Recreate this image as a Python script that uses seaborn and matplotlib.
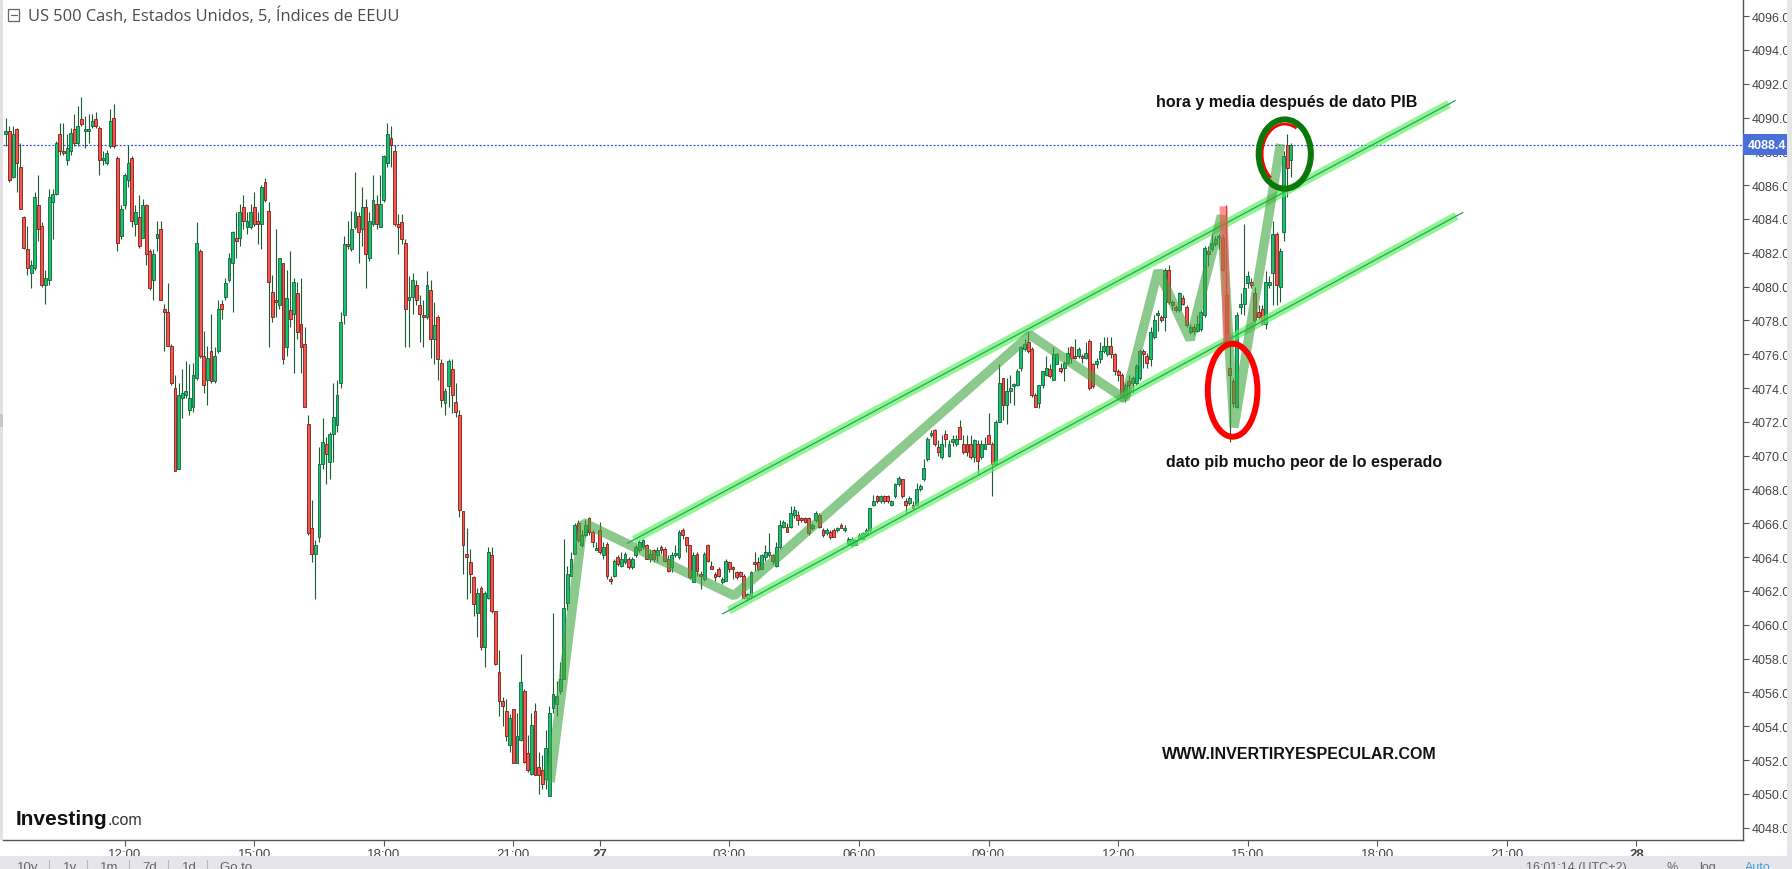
import numpy as np
import pandas as pd
import matplotlib
matplotlib.use("Agg")
import matplotlib.pyplot as plt
import matplotlib.transforms as mtransforms
from matplotlib.patches import Ellipse, Arc, Rectangle
import seaborn as sns

# ---------------- data (5-minute candles, bar index on screen) ----------------
first_bar = -33
opens = [
    4089.0, 4089.2, 4086.5, 4089.3, 4087.1, 4084.1, 4082.2, 4080.8, 4081.1, 4084.8,
    4083.6, 4080.1, 4080.4, 4085.0, 4085.5, 4089.0, 4088.0, 4087.5, 4088.0, 4089.3,
    4088.5, 4089.9, 4089.2, 4089.2, 4089.5, 4089.9, 4089.4, 4087.5, 4087.3, 4088.3,
    4090.0, 4087.6, 4083.0, 4084.8, 4086.3, 4087.6, 4083.7, 4084.1, 4082.9, 4084.8,
    4082.1, 4080.4, 4082.9, 4083.4, 4078.7, 4078.5, 4076.5, 4074.0, 4069.2, 4073.4,
    4073.6, 4072.7, 4072.9, 4074.6, 4082.1, 4075.9, 4074.5, 4076.2, 4074.4, 4076.2,
    4079.0, 4079.4, 4080.4, 4081.4, 4082.9, 4082.9, 4084.7, 4083.5, 4083.5, 4084.7,
    4083.9, 4083.7, 4086.2, 4084.5, 4079.7, 4079.2, 4078.9, 4081.4, 4076.4, 4078.6,
    4078.4, 4079.6, 4077.8, 4076.6, 4071.9, 4065.7, 4064.2, 4065.2, 4069.5, 4070.7,
    4069.6, 4071.3, 4071.8, 4074.3, 4078.3, 4082.5, 4082.2, 4083.5, 4084.2, 4083.4,
    4084.7, 4081.7, 4083.7, 4084.9, 4083.5, 4085.1, 4087.3, 4088.8, 4088.0, 4083.7,
    4083.8, 4082.6, 4079.2, 4079.4, 4080.1, 4078.9, 4078.3, 4078.2, 4079.8, 4076.9,
    4078.2, 4075.5, 4073.1, 4074.1, 4075.1, 4073.2, 4072.4, 4066.7, 4064.2, 4063.7,
    4062.8, 4060.7, 4062.2, 4058.7, 4061.6, 4064.1, 4060.8, 4057.2, 4055.5, 4054.9,
    4052.9, 4055.0, 4051.8, 4053.2, 4056.1, 4052.4, 4051.2, 4054.9, 4051.6, 4051.4,
    4050.9, 4049.9, 4055.1, 4055.3, 4056.1, 4056.8, 4061.3, 4062.9, 4064.2, 4066.0,
    4064.7, 4065.3, 4066.3, 4065.5, 4064.4, 4065.6, 4064.1, 4064.8, 4062.7, 4062.9,
    4064.0, 4063.5, 4063.7, 4063.9, 4063.4, 4064.1, 4064.4, 4064.6, 4064.7, 4063.9,
    4064.4, 4064.1, 4064.6, 4064.5, 4063.9, 4063.4, 4064.1, 4064.0, 4065.6, 4065.2,
    4064.7, 4062.5, 4064.2, 4063.0, 4062.7, 4064.7, 4063.5, 4063.0, 4063.3, 4062.5,
    4062.6, 4063.7, 4063.4, 4063.1, 4063.1, 4062.9, 4061.6, 4061.7, 4063.7, 4063.7,
    4063.3, 4064.0, 4064.1, 4064.1, 4063.5, 4064.6, 4065.8, 4065.8, 4065.8, 4066.5,
    4066.5, 4066.3, 4066.3, 4066.3, 4065.7, 4066.2, 4066.5, 4065.6, 4065.4, 4065.5,
    4065.6, 4065.6, 4065.9, 4065.6, 4064.8, 4064.7, 4064.7, 4065.1, 4065.1, 4065.3,
    4065.6, 4067.1, 4067.6, 4067.3, 4067.6, 4067.6, 4067.1, 4067.6, 4068.3, 4068.6,
    4067.3, 4067.2, 4067.1, 4067.1, 4068.0, 4068.6, 4069.8, 4071.2, 4071.5, 4070.5,
    4069.9, 4071.3, 4070.0, 4070.8, 4070.7, 4071.7, 4070.7, 4070.7, 4070.7, 4069.9,
    4070.7, 4069.9, 4070.4, 4071.2, 4070.7, 4069.5, 4072.0, 4074.6, 4073.0, 4073.8,
    4074.1, 4074.2, 4075.2, 4076.3, 4076.7, 4076.3, 4073.6, 4073.1, 4074.2, 4074.8,
    4075.1, 4074.5, 4075.4, 4075.2, 4075.2, 4075.5, 4076.4, 4075.9, 4075.9, 4075.9,
    4075.8, 4076.8, 4075.4, 4075.4, 4075.7, 4076.2, 4076.0, 4076.5, 4076.0, 4075.0,
    4074.8, 4073.4, 4074.4, 4074.3, 4074.3, 4074.6, 4076.2, 4075.9, 4075.7, 4077.0,
    4078.3, 4078.2, 4078.2, 4081.0, 4079.1, 4078.8, 4078.6, 4079.3, 4078.8, 4077.3,
    4077.6, 4077.4, 4077.5, 4078.3, 4082.1, 4082.2, 4082.5, 4082.9, 4082.9, 4079.5,
    4075.2, 4074.4, 4072.9, 4078.8, 4079.0, 4080.2, 4080.3, 4079.6, 4078.5, 4078.7,
    4077.8, 4080.1, 4080.8, 4083.1, 4080.0, 4083.2, 4088.4, 4087.5,
]
highs = [
    4090.0, 4089.5, 4089.5, 4089.4, 4088.5, 4084.2, 4083.6, 4081.6, 4085.6, 4086.6,
    4083.8, 4081.0, 4085.8, 4085.8, 4088.6, 4089.7, 4089.7, 4089.0, 4089.4, 4090.2,
    4090.7, 4091.2, 4090.1, 4090.2, 4090.2, 4090.3, 4089.5, 4088.0, 4088.1, 4090.5,
    4090.8, 4087.7, 4084.8, 4086.7, 4088.4, 4087.7, 4084.8, 4085.4, 4085.2, 4084.9,
    4082.2, 4082.2, 4083.9, 4083.9, 4079.0, 4080.2, 4076.6, 4074.8, 4074.3, 4075.1,
    4075.6, 4075.4, 4075.5, 4083.8, 4082.2, 4077.4, 4076.5, 4078.4, 4076.4, 4079.2,
    4079.2, 4080.5, 4082.0, 4083.3, 4084.4, 4084.9, 4085.4, 4084.4, 4084.9, 4085.6,
    4084.4, 4086.0, 4086.4, 4085.0, 4080.7, 4083.4, 4081.7, 4081.4, 4081.0, 4082.1,
    4080.5, 4080.3, 4080.5, 4077.6, 4072.4, 4067.4, 4065.0, 4070.5, 4072.2, 4071.1,
    4071.4, 4074.3, 4074.5, 4078.5, 4083.0, 4083.9, 4084.5, 4086.8, 4084.4, 4085.9,
    4085.2, 4084.4, 4086.6, 4085.4, 4086.6, 4087.8, 4089.7, 4089.5, 4088.4, 4084.3,
    4084.3, 4082.8, 4080.6, 4080.8, 4080.4, 4079.5, 4079.2, 4080.9, 4080.4, 4079.1,
    4078.3, 4075.7, 4074.0, 4075.7, 4075.7, 4074.3, 4072.7, 4066.7, 4065.7, 4064.5,
    4062.9, 4062.2, 4062.3, 4062.0, 4064.6, 4064.6, 4060.8, 4058.5, 4055.7, 4055.6,
    4054.7, 4055.0, 4054.8, 4058.3, 4056.2, 4053.5, 4054.8, 4055.4, 4052.5, 4052.3,
    4053.8, 4055.2, 4060.7, 4056.7, 4057.8, 4065.1, 4063.5, 4064.3, 4066.0, 4066.2,
    4065.6, 4066.2, 4066.4, 4065.6, 4064.9, 4066.1, 4064.9, 4064.9, 4062.9, 4063.9,
    4064.1, 4064.3, 4064.3, 4064.0, 4064.0, 4064.7, 4065.0, 4065.1, 4064.8, 4064.5,
    4064.5, 4064.6, 4064.7, 4064.6, 4064.1, 4064.3, 4064.7, 4065.6, 4065.7, 4065.2,
    4064.7, 4064.3, 4064.3, 4063.2, 4064.3, 4064.8, 4063.8, 4063.1, 4063.4, 4062.8,
    4063.9, 4063.8, 4063.5, 4063.2, 4063.2, 4063.0, 4061.9, 4063.2, 4064.3, 4064.0,
    4064.2, 4064.7, 4065.4, 4064.2, 4064.9, 4066.2, 4066.2, 4066.0, 4067.0, 4067.0,
    4066.7, 4066.4, 4066.4, 4066.4, 4066.0, 4066.7, 4066.6, 4065.7, 4065.7, 4065.6,
    4065.7, 4065.8, 4066.0, 4065.9, 4065.2, 4065.2, 4065.1, 4065.4, 4065.5, 4065.7,
    4066.9, 4067.7, 4067.7, 4067.7, 4067.7, 4067.7, 4067.4, 4068.4, 4068.8, 4068.6,
    4067.5, 4067.6, 4067.3, 4068.4, 4068.3, 4069.8, 4071.1, 4071.5, 4071.6, 4070.9,
    4071.2, 4071.5, 4070.9, 4071.2, 4071.2, 4072.1, 4071.2, 4071.2, 4071.2, 4071.0,
    4070.9, 4070.9, 4071.1, 4072.5, 4070.8, 4072.1, 4075.4, 4074.6, 4074.6, 4074.8,
    4074.3, 4075.1, 4076.5, 4076.9, 4077.4, 4076.4, 4073.7, 4074.2, 4075.0, 4075.9,
    4075.4, 4076.4, 4076.1, 4075.5, 4075.6, 4076.4, 4076.5, 4076.9, 4076.4, 4076.0,
    4076.7, 4076.9, 4075.5, 4075.8, 4076.7, 4077.0, 4077.0, 4077.0, 4076.1, 4075.1,
    4074.9, 4074.3, 4074.8, 4074.7, 4075.4, 4076.3, 4076.3, 4076.1, 4077.6, 4078.3,
    4078.6, 4078.3, 4081.1, 4081.3, 4079.2, 4078.9, 4079.7, 4079.5, 4078.9, 4077.8,
    4077.8, 4078.3, 4078.6, 4082.4, 4082.4, 4083.1, 4083.0, 4083.1, 4083.1, 4084.8,
    4076.5, 4074.6, 4078.5, 4079.6, 4083.7, 4080.9, 4080.5, 4080.0, 4078.9, 4078.9,
    4080.9, 4080.6, 4083.9, 4083.2, 4082.3, 4088.0, 4089.0, 4088.5,
]
lows = [
    4088.3, 4086.2, 4086.4, 4085.6, 4084.6, 4082.2, 4080.7, 4079.9, 4081.0, 4082.7,
    4080.0, 4079.0, 4080.1, 4082.8, 4085.4, 4087.8, 4087.8, 4087.2, 4087.8, 4088.3,
    4088.3, 4089.5, 4088.2, 4088.5, 4089.4, 4089.4, 4086.6, 4087.2, 4087.2, 4088.2,
    4088.2, 4082.1, 4082.8, 4084.6, 4085.9, 4083.5, 4083.0, 4082.3, 4082.9, 4081.3,
    4079.8, 4079.2, 4082.1, 4079.2, 4076.2, 4076.5, 4074.2, 4069.1, 4069.2, 4072.2,
    4073.4, 4072.4, 4072.6, 4074.5, 4075.8, 4073.7, 4073.0, 4074.3, 4074.3, 4076.1,
    4078.1, 4079.2, 4080.3, 4078.5, 4081.7, 4082.4, 4083.4, 4083.1, 4083.4, 4083.6,
    4082.5, 4082.2, 4085.0, 4076.4, 4077.9, 4078.2, 4078.7, 4075.4, 4075.9, 4077.6,
    4074.9, 4076.9, 4074.9, 4072.9, 4065.3, 4063.7, 4061.5, 4064.9, 4069.2, 4068.3,
    4068.6, 4069.6, 4071.4, 4074.0, 4077.8, 4082.2, 4082.1, 4083.4, 4081.4, 4082.4,
    4079.9, 4081.5, 4083.6, 4083.4, 4083.5, 4085.0, 4087.1, 4087.1, 4083.6, 4081.9,
    4082.5, 4076.4, 4076.4, 4078.4, 4078.9, 4076.7, 4076.4, 4078.1, 4075.8, 4075.4,
    4074.5, 4072.9, 4072.4, 4072.9, 4072.5, 4072.3, 4066.4, 4063.0, 4061.5, 4061.9,
    4060.5, 4059.3, 4058.5, 4057.5, 4061.5, 4060.7, 4057.6, 4054.6, 4054.0, 4053.1,
    4052.5, 4051.8, 4051.8, 4053.1, 4051.8, 4051.3, 4051.1, 4051.1, 4050.0, 4050.3,
    4050.3, 4049.9, 4054.8, 4054.6, 4055.9, 4056.8, 4060.9, 4062.9, 4064.2, 4064.9,
    4064.6, 4065.2, 4065.3, 4064.6, 4064.4, 4064.2, 4063.9, 4062.7, 4062.4, 4062.8,
    4063.5, 4063.4, 4063.6, 4063.3, 4063.3, 4064.0, 4064.3, 4064.5, 4063.9, 4063.7,
    4063.7, 4063.7, 4064.2, 4063.7, 4063.1, 4063.1, 4064.0, 4063.9, 4065.1, 4064.3,
    4062.7, 4062.5, 4062.9, 4062.1, 4062.6, 4063.7, 4063.3, 4062.6, 4062.8, 4062.4,
    4062.6, 4063.1, 4062.7, 4062.7, 4062.8, 4061.5, 4061.4, 4061.5, 4063.2, 4063.2,
    4063.3, 4063.8, 4064.0, 4063.6, 4063.4, 4064.5, 4065.7, 4065.5, 4065.7, 4066.3,
    4065.9, 4066.1, 4066.0, 4065.3, 4065.6, 4066.1, 4065.7, 4065.2, 4065.3, 4065.1,
    4065.2, 4065.5, 4065.7, 4065.5, 4064.7, 4064.6, 4064.7, 4065.0, 4065.1, 4065.2,
    4065.5, 4067.0, 4067.2, 4067.2, 4067.2, 4067.2, 4067.0, 4067.5, 4068.2, 4067.5,
    4066.6, 4067.1, 4066.8, 4067.0, 4067.9, 4068.5, 4069.7, 4071.1, 4070.6, 4070.0,
    4069.8, 4070.5, 4069.9, 4070.6, 4070.6, 4071.0, 4070.1, 4070.0, 4069.8, 4069.6,
    4068.9, 4069.8, 4070.4, 4070.7, 4067.6, 4069.5, 4072.0, 4072.1, 4071.9, 4073.1,
    4073.0, 4074.1, 4075.0, 4076.2, 4076.1, 4073.5, 4072.9, 4072.8, 4074.0, 4074.7,
    4074.6, 4074.5, 4075.4, 4074.9, 4074.4, 4075.4, 4075.5, 4075.7, 4075.8, 4075.5,
    4075.7, 4073.9, 4074.0, 4075.2, 4075.5, 4076.1, 4075.9, 4075.8, 4074.8, 4074.4,
    4073.4, 4073.2, 4073.5, 4073.7, 4074.2, 4074.5, 4075.2, 4075.2, 4075.3, 4076.9,
    4077.4, 4077.9, 4077.4, 4079.0, 4078.6, 4078.5, 4078.5, 4078.9, 4077.6, 4077.2,
    4077.2, 4077.3, 4077.4, 4078.2, 4081.2, 4082.1, 4082.4, 4082.2, 4080.9, 4076.5,
    4070.8, 4072.9, 4072.8, 4078.4, 4078.3, 4079.9, 4079.9, 4077.9, 4078.0, 4077.7,
    4077.5, 4079.9, 4078.9, 4078.9, 4079.1, 4082.7, 4085.3, 4086.5,
]
closes = [
    4089.2, 4086.3, 4089.0, 4087.3, 4084.6, 4082.3, 4081.1, 4081.3, 4085.3, 4083.4,
    4080.1, 4080.5, 4085.3, 4085.5, 4088.5, 4088.0, 4087.9, 4088.2, 4089.1, 4088.5,
    4089.5, 4089.6, 4089.3, 4089.3, 4089.8, 4089.5, 4087.5, 4087.6, 4087.9, 4089.8,
    4088.3, 4082.6, 4084.6, 4086.6, 4087.3, 4083.9, 4084.4, 4082.4, 4084.8, 4081.9,
    4079.9, 4081.9, 4083.1, 4079.2, 4078.5, 4076.5, 4074.3, 4069.1, 4073.6, 4073.7,
    4073.8, 4073.4, 4074.8, 4082.6, 4075.9, 4074.2, 4075.8, 4074.4, 4075.9, 4078.7,
    4078.7, 4080.2, 4081.7, 4083.2, 4082.7, 4084.4, 4083.9, 4083.9, 4084.4, 4083.7,
    4083.7, 4085.9, 4085.1, 4080.3, 4078.2, 4079.1, 4081.7, 4075.7, 4079.3, 4078.1,
    4080.3, 4077.3, 4076.4, 4072.9, 4065.4, 4064.2, 4064.7, 4069.5, 4070.8, 4070.1,
    4071.3, 4072.3, 4073.6, 4077.9, 4082.5, 4082.4, 4083.4, 4084.4, 4083.2, 4084.7,
    4081.9, 4083.9, 4085.1, 4083.7, 4084.9, 4087.7, 4089.0, 4088.4, 4083.7, 4083.5,
    4082.8, 4078.7, 4079.4, 4080.4, 4079.2, 4078.4, 4078.2, 4080.1, 4076.9, 4077.7,
    4075.7, 4073.3, 4073.8, 4075.6, 4073.6, 4072.6, 4066.8, 4064.7, 4064.0, 4063.0,
    4061.2, 4061.9, 4058.7, 4061.9, 4064.3, 4060.8, 4057.7, 4055.5, 4055.2, 4053.4,
    4054.5, 4051.8, 4053.4, 4056.6, 4051.9, 4051.4, 4054.1, 4051.1, 4051.1, 4050.6,
    4052.7, 4054.8, 4055.9, 4055.8, 4056.8, 4061.0, 4063.0, 4063.9, 4065.9, 4065.0,
    4065.3, 4065.9, 4065.5, 4064.9, 4064.5, 4064.3, 4064.6, 4062.9, 4062.6, 4063.8,
    4063.6, 4063.9, 4064.2, 4063.4, 4063.9, 4064.6, 4064.9, 4065.0, 4063.9, 4064.2,
    4063.9, 4064.4, 4064.4, 4063.8, 4063.2, 4064.1, 4064.2, 4065.5, 4065.3, 4064.7,
    4062.8, 4064.1, 4063.2, 4062.9, 4064.2, 4063.8, 4063.3, 4062.8, 4062.9, 4062.7,
    4063.8, 4063.3, 4063.3, 4062.8, 4062.9, 4061.6, 4061.8, 4063.1, 4063.6, 4063.3,
    4064.1, 4064.3, 4064.3, 4063.8, 4064.6, 4065.9, 4066.1, 4065.5, 4066.6, 4066.8,
    4066.2, 4066.2, 4066.1, 4065.4, 4065.9, 4066.6, 4065.8, 4065.3, 4065.6, 4065.2,
    4065.2, 4065.7, 4065.7, 4065.7, 4065.1, 4065.1, 4065.0, 4065.3, 4065.4, 4065.6,
    4066.9, 4067.3, 4067.3, 4067.6, 4067.3, 4067.3, 4067.3, 4068.3, 4068.7, 4067.6,
    4067.1, 4067.5, 4066.9, 4068.0, 4068.2, 4069.3, 4071.0, 4071.3, 4070.7, 4070.2,
    4070.7, 4071.0, 4070.7, 4071.0, 4071.0, 4071.0, 4070.2, 4070.2, 4069.9, 4070.9,
    4069.7, 4070.7, 4070.7, 4070.7, 4069.5, 4072.0, 4074.3, 4073.0, 4073.8, 4074.0,
    4074.2, 4075.0, 4076.4, 4076.6, 4076.2, 4073.6, 4072.9, 4074.2, 4075.0, 4075.2,
    4074.7, 4076.0, 4076.0, 4075.0, 4075.5, 4076.1, 4075.8, 4075.8, 4076.3, 4075.8,
    4076.1, 4074.0, 4074.1, 4075.6, 4076.2, 4076.5, 4076.5, 4076.0, 4075.0, 4074.8,
    4073.5, 4074.2, 4074.2, 4074.6, 4075.3, 4076.2, 4076.0, 4075.5, 4077.3, 4078.0,
    4078.4, 4078.0, 4081.0, 4079.1, 4078.9, 4078.6, 4079.6, 4079.0, 4077.7, 4077.6,
    4077.4, 4077.8, 4078.5, 4082.3, 4081.9, 4082.6, 4082.8, 4083.0, 4081.0, 4076.7,
    4074.8, 4073.1, 4078.3, 4079.0, 4079.9, 4080.6, 4080.1, 4078.0, 4078.2, 4077.8,
    4080.3, 4080.3, 4083.1, 4080.1, 4082.1, 4087.7, 4087.0, 4088.4,
]
last_price = 4088.4

# time axis (bar index -> label); the 22:00-23:00 break is skipped on screen
tick_bars = [0, 36, 72, 108, 132, 168, 204, 240, 276, 312, 348, 384, 420]
tick_labels = ["12:00", "15:00", "18:00", "21:00", "27", "03:00", "06:00",
               "09:00", "12:00", "15:00", "18:00", "21:00", "28"]
price_ticks = list(np.arange(4048, 4097, 2))

# drawings: channel lines, zig-zag path, ellipses
upper_chan_bar = [141.5, 367.9]
upper_chan_px = [4065.03, 4090.8]
lower_chan_bar = [167.9, 370.0]
lower_chan_px = [4060.85, 4084.18]
zigzag_bar = [118.2, 127.4, 169.3, 251.5, 277.9, 287.1, 296.0, 304.7, 308.2, 321.1]
zigzag_px = [4050.7, 4066.05, 4061.72, 4077.14, 4073.35, 4080.94, 4076.86, 4084.2, 4071.68, 4088.43]
drop_bar = [305.3, 306.3]
drop_px = [4084.75, 4076.5]
red_ell = (307.8, 4073.87, 13.8, 5.5)
green_ell = (322.3, 4087.84, 14.5, 4.10)

n = len(opens)
assert len(highs) == n and len(lows) == n and len(closes) == n
df = pd.DataFrame({"bar": np.arange(first_bar, first_bar + n),
                   "open": opens, "high": highs, "low": lows, "close": closes})
df["up"] = df["close"] >= df["open"]

# ---------------- figure ----------------
sns.set_theme(style="white")
plt.rcParams["font.family"] = ["Liberation Sans", "DejaVu Sans"]

W, H = 1792, 870
fig = plt.figure(figsize=(W / 100, H / 100), dpi=100)
fig.patch.set_facecolor("white")
ax = fig.add_axes([3 / W, 29 / H, 1740 / W, 841 / H])
ax.set_facecolor("white")
ax.set_xlim(-33.8, 449.6)
ax.set_ylim(4047.27, 4097.01)

GREEN_FILL, GREEN_EDGE = "#14c46c", "#17603a"
RED_FILL, RED_EDGE = "#f4554c", "#7d1d17"
WICK = "#1b5c34"

# wicks
ax.vlines(df["bar"], df["low"], df["high"], color=WICK, linewidth=0.8, zorder=2)
# bodies
body_lo = np.minimum(df["open"], df["close"])
body_h = np.maximum(np.abs(df["close"] - df["open"]), 0.12)
ax.bar(df["bar"], body_h, bottom=body_lo, width=0.8,
       color=np.where(df["up"], GREEN_FILL, RED_FILL),
       edgecolor=np.where(df["up"], GREEN_EDGE, RED_EDGE),
       linewidth=0.6, zorder=3)

# last price dotted line
ax.axhline(last_price, color="#3355cc", linewidth=0.9, linestyle=(0, (1.6, 1.4)), zorder=2.5)

# channel lines
for bx, py in ((upper_chan_bar, upper_chan_px), (lower_chan_bar, lower_chan_px)):
    ax.plot(bx, py, color="#5cf05c", alpha=0.68, linewidth=6.0, solid_capstyle="butt", zorder=4)
    slope = (py[1] - py[0]) / (bx[1] - bx[0])
    ext = 1.8
    ax.plot([bx[0] - ext, bx[1] + ext], [py[0] - ext * slope, py[1] + ext * slope],
            color="#25a265", linewidth=0.9, zorder=4.1)

# zig-zag path
sns.lineplot(x=zigzag_bar, y=zigzag_px, sort=False, estimator=None, color="#3fa53f",
             alpha=0.6, linewidth=6.8, solid_capstyle="butt", solid_joinstyle="bevel",
             ax=ax, legend=False, zorder=5)
# red drop bar
ax.plot(drop_bar, drop_px, color="#ff4d4d", alpha=0.6, linewidth=5.8,
        solid_capstyle="butt", zorder=5.5)

# ellipses
cx, cy, ew, eh = red_ell
ax.add_patch(Ellipse((cx, cy), ew, eh, fill=False, edgecolor="#ff0000", linewidth=4.3, zorder=7))
cx, cy, ew, eh = green_ell
ax.add_patch(Arc((cx, cy), ew - 1.9, eh - 0.55, theta1=25, theta2=200,
                 edgecolor="#ff0000", linewidth=2.0, zorder=6.9))
ax.add_patch(Ellipse((cx, cy), ew, eh, fill=False, edgecolor="#0b770b", linewidth=4.3, zorder=7))

# axes styling
for s in ("top", "left"):
    ax.spines[s].set_visible(False)
for s in ("right", "bottom"):
    ax.spines[s].set_color("#555555")
    ax.spines[s].set_linewidth(1.0)
ax.yaxis.tick_right()
ax.set_yticks(price_ticks)
ax.set_yticklabels([f"{v:.1f}" for v in price_ticks])
ax.tick_params(axis="y", direction="out", length=4, width=0.8, color="#555555",
               labelsize=9, labelcolor="#444444", pad=2, right=True, left=False)
ax.set_xticks(tick_bars)
ax.set_xticklabels(tick_labels)
ax.tick_params(axis="x", direction="out", length=4, width=0.8, color="#555555",
               labelsize=9.5, labelcolor="#444444", pad=1.5, bottom=True)
for t in ax.get_xticklabels():
    if t.get_text() in ("27", "28"):
        t.set_fontweight("bold")
ax.grid(False)

# last price tag on the axis
blend = mtransforms.blended_transform_factory(ax.transAxes, ax.transData)
ax.text(1.0025, last_price, "4088.4", transform=blend, ha="left", va="center",
        fontsize=9, fontweight="bold", color="white", clip_on=False, zorder=10,
        bbox=dict(boxstyle="square,pad=0.35", fc="#4a6fd8", ec="none"))

# annotations
def ftxt(x, y, s, **kw):
    fig.text(x / W, 1 - y / H, s, **kw)

ftxt(1287, 103, "hora y media después de dato PIB", ha="center", va="center",
     fontsize=11.5, fontweight="bold", color="#111111", zorder=9)
ftxt(1304, 463, "dato pib mucho peor de lo esperado", ha="center", va="center",
     fontsize=11.5, fontweight="bold", color="#111111", zorder=9)
ftxt(1299, 755, "WWW.INVERTIRYESPECULAR.COM", ha="center", va="center",
     fontsize=11.5, fontweight="bold", color="#111111", zorder=9)

# title
fig.patches.append(Rectangle((8 / W, 1 - 22 / H), 11 / W, 12 / H, transform=fig.transFigure,
                             fill=False, edgecolor="#666666", linewidth=0.9))
fig.lines.append(plt.Line2D([10.5 / W, 16.5 / W], [1 - 16 / H, 1 - 16 / H],
                            transform=fig.transFigure, color="#666666", linewidth=0.9))
ftxt(28, 16, "US 500 Cash, Estados Unidos, 5, Índices de EEUU", ha="left", va="center",
     fontsize=11.8, family=["Open Sans", "DejaVu Sans"], color="#4a4a4a")

# Investing.com logo
ftxt(16, 825, "Investing", ha="left", va="baseline", fontsize=15, fontweight="bold", color="#111111")
ftxt(107.5, 825, ".com", ha="left", va="baseline", fontsize=11.5, color="#333333")

# left edge strip and handle
fig.patches.append(Rectangle((0, 29 / H), 3 / W, 841 / H, transform=fig.transFigure,
                             facecolor="#e2e2e6", edgecolor="none"))
fig.patches.append(Rectangle((0, 1 - 428 / H), 3 / W, 13 / H, transform=fig.transFigure,
                             facecolor="#c8c8cc", edgecolor="none"))
# right scroll strip
fig.patches.append(Rectangle((1787 / W, 13 / H), 5 / W, 857 / H, transform=fig.transFigure,
                             facecolor="#e6e6e9", edgecolor="none"))

# bottom toolbar
fig.patches.append(Rectangle((0, 0), 1, 13 / H, transform=fig.transFigure,
                             facecolor="#e6e6ea", edgecolor="none"))
for xl, s in ((17, "10y"), (63, "1y"), (100, "1m"), (142, "7d"), (182, "1d"), (220, "Go to")):
    ftxt(xl, 862, s, ha="left", va="top", fontsize=9.5, color="#666666")
for xs in (48.6, 87, 129, 168, 207):
    fig.lines.append(plt.Line2D([xs / W, xs / W], [0, 9 / H], transform=fig.transFigure,
                                color="#b8b8bc", linewidth=0.8))
ftxt(1526, 862, "16:01:14 (UTC+2)", ha="left", va="top", fontsize=9, color="#666666")
ftxt(1666, 862, "%", ha="left", va="top", fontsize=9, color="#666666")
ftxt(1699, 862, "log", ha="left", va="top", fontsize=9, color="#666666")
ftxt(1745, 862, "Auto", ha="left", va="top", fontsize=9, color="#3a9ee0")

fig.savefig("out.png", dpi=100, facecolor="white")
